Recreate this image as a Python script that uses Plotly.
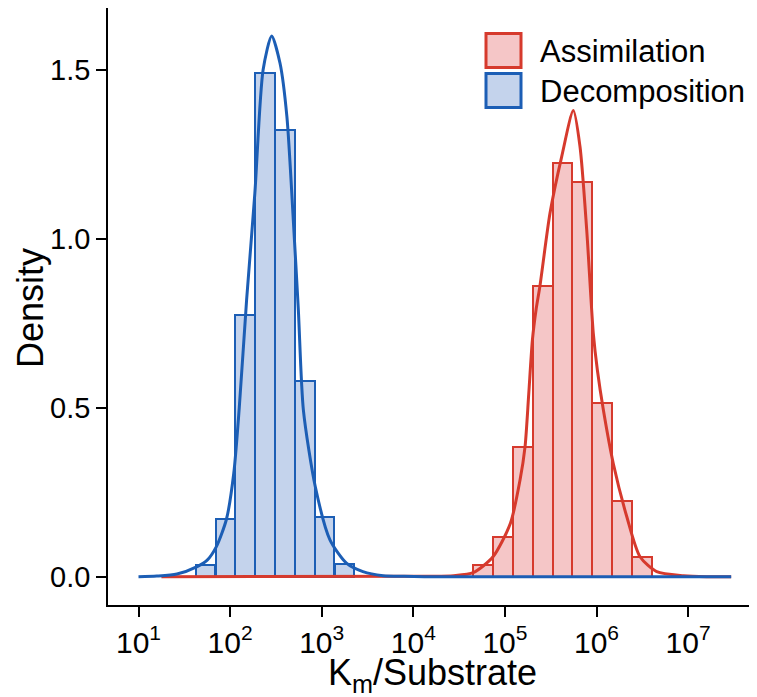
import plotly.graph_objects as go

# ---- data (log10 of Km/Substrate) ----
bin_width = 0.2165
decomp_bin_centers = [1.732, 1.949, 2.165, 2.382, 2.598, 2.815, 3.031, 3.248]
decomp_density = [0.035, 0.171, 0.774, 1.489, 1.321, 0.580, 0.178, 0.038]

assim_bin_centers = [4.763, 4.980, 5.196, 5.413, 5.629, 5.846, 6.062, 6.279, 6.495]
assim_density = [0.035, 0.117, 0.383, 0.861, 1.223, 1.167, 0.515, 0.224, 0.059]

decomp_kde_x = [1.00, 1.20, 1.42, 1.64, 1.75, 1.85, 1.96, 2.04, 2.10, 2.18, 2.27, 2.36, 2.454,
                2.545, 2.62, 2.69, 2.745, 2.80, 2.93, 3.09, 3.27, 3.45, 3.67, 3.90, 4.20, 7.47]
decomp_kde_y = [0.000, 0.002, 0.008, 0.030, 0.049, 0.089, 0.170, 0.306, 0.500, 0.818, 1.134, 1.499, 1.600,
                1.519, 1.361, 1.055, 0.789, 0.493, 0.266, 0.109, 0.040, 0.015, 0.003, 0.001, 0.000, 0.000]

assim_kde_x = [1.25, 4.20, 4.44, 4.655, 4.87, 5.06, 5.165, 5.22, 5.26, 5.30, 5.34, 5.383, 5.492, 5.62, 5.747,
               5.82, 5.893, 5.965, 6.01, 6.075, 6.183, 6.33, 6.475, 6.657, 6.95, 7.20, 7.47]
assim_kde_y = [0.000, 0.001, 0.003, 0.012, 0.059, 0.158, 0.286, 0.385, 0.540, 0.700, 0.790, 0.861, 1.075, 1.243, 1.379,
               1.272, 1.026, 0.720, 0.610, 0.493, 0.335, 0.178, 0.059, 0.015, 0.003, 0.000, 0.000]

x_tick_vals = [1, 2, 3, 4, 5, 6, 7]
x_tick_text = ["10<sup>%d</sup>" % v for v in x_tick_vals]
y_tick_vals = [0.0, 0.5, 1.0, 1.5]
y_tick_text = ["0.0", "0.5", "1.0", "1.5"]

series_names = ["Assimilation", "Decomposition"]
x_title = "K<sub>m</sub>/Substrate"
y_title = "Density"

RED_LINE = "#D63A2D"
RED_FILL = "#F5C6C7"
BLUE_LINE = "#1C5EB5"
BLUE_FILL = "#C4D3EC"

FONT = "Liberation Sans, Arial, sans-serif"

fig = go.Figure()
fig.add_trace(go.Bar(x=assim_bin_centers, y=assim_density, width=bin_width,
                     marker=dict(color=RED_FILL, line=dict(color=RED_LINE, width=2)),
                     showlegend=False, name=series_names[0]))
fig.add_trace(go.Bar(x=decomp_bin_centers, y=decomp_density, width=bin_width,
                     marker=dict(color=BLUE_FILL, line=dict(color=BLUE_LINE, width=2)),
                     showlegend=False, name=series_names[1]))
fig.add_trace(go.Scatter(x=assim_kde_x, y=assim_kde_y, mode="lines",
                         line=dict(color=RED_LINE, width=3, shape="spline", smoothing=0.7),
                         showlegend=False))
fig.add_trace(go.Scatter(x=decomp_kde_x, y=decomp_kde_y, mode="lines",
                         line=dict(color=BLUE_LINE, width=3, shape="spline", smoothing=0.7),
                         showlegend=False))

# page has an 8px body margin: size the figure so it lands where the reference is
OFF = 8
W, H = 757 - OFF, 697 - OFF
L, R, T, B = 108 - OFF, 0, 8 - OFF, 697 - 605
pw, ph = W - L - R, H - T - B

def px_to_paper(px, py):
    # px, py are screen pixels of the reference picture
    fx, fy = px - OFF, py - OFF
    return (fx - L) / pw, (H - B - fy) / ph

# legend drawn as boxes + text
legend_rows = [(series_names[0], RED_FILL, RED_LINE, 33.5), (series_names[1], BLUE_FILL, BLUE_LINE, 73.5)]
for name, fill, line, top in legend_rows:
    x0, y0 = px_to_paper(486, top + 34)
    x1, y1 = px_to_paper(521, top)
    fig.add_shape(type="rect", xref="paper", yref="paper", x0=x0, y0=y0, x1=x1, y1=y1,
                  fillcolor=fill, line=dict(color=line, width=3))
    tx, ty = px_to_paper(538, top + 18)
    fig.add_annotation(xref="paper", yref="paper", x=tx, y=ty, text=name, showarrow=False,
                       xanchor="left", yanchor="middle", font=dict(size=31, color="black", family=FONT))

# axis titles
ax, ay = px_to_paper(432, 675)
fig.add_annotation(xref="paper", yref="paper", x=ax, y=ay, text=x_title, showarrow=False,
                   xanchor="center", yanchor="middle", font=dict(size=36, color="black", family=FONT))
bx, by = px_to_paper(30, 308)
fig.add_annotation(xref="paper", yref="paper", x=bx, y=by, text=y_title, showarrow=False, textangle=-90,
                   xanchor="center", yanchor="middle", font=dict(size=36, color="black", family=FONT))

fig.update_layout(
    width=W, height=H,
    margin=dict(l=L, r=R, t=T, b=B, autoexpand=False),
    plot_bgcolor="white", paper_bgcolor="white",
    barmode="overlay", bargap=0,
    font=dict(family=FONT, color="black"),
    xaxis=dict(range=[0.667, 7.752], showgrid=False, zeroline=False, automargin=False,
               showline=True, linecolor="black", linewidth=1.5,
               ticks="outside", ticklen=10, tickwidth=1.5, tickcolor="black",
               tickvals=x_tick_vals, ticktext=x_tick_text,
               tickfont=dict(size=30, color="black")),
    yaxis=dict(range=[-0.0837, 1.6825], showgrid=False, zeroline=False, automargin=False,
               showline=True, linecolor="black", linewidth=1.5,
               ticks="outside", ticklen=10, tickwidth=1.5, tickcolor="black",
               tickvals=y_tick_vals, ticktext=y_tick_text,
               tickfont=dict(size=29, color="black")),
)

fig.write_html("out.html")
